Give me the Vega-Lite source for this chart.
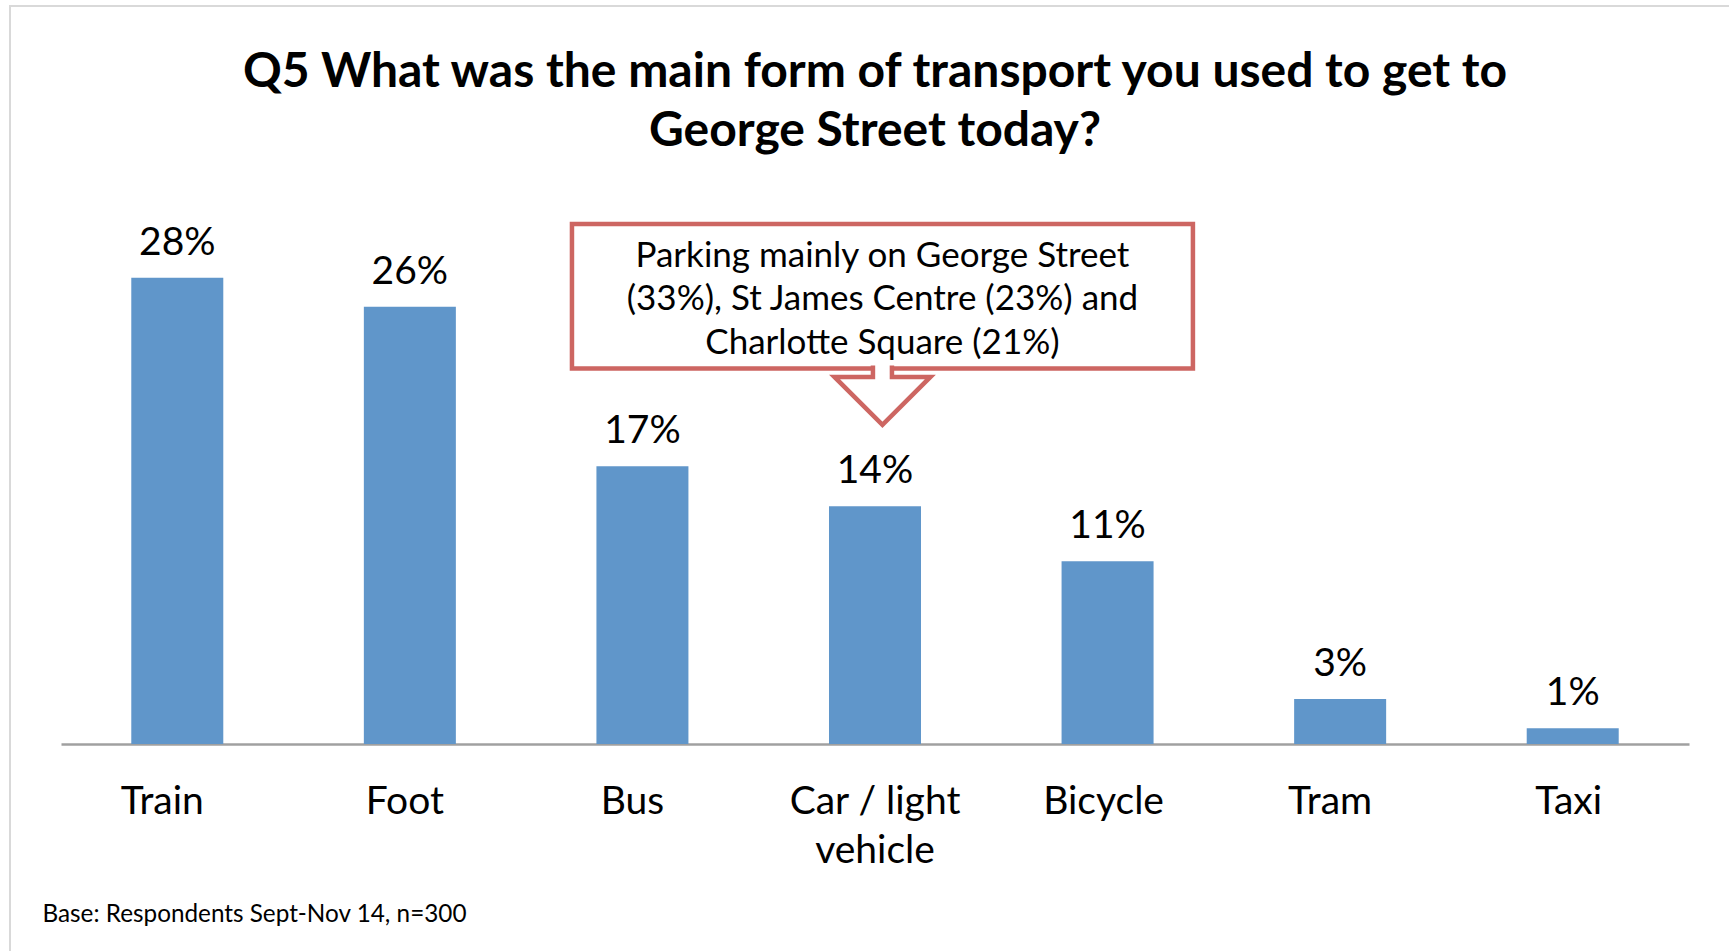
{
  "$schema": "https://vega.github.io/schema/vega-lite/v6.json",
  "width": 1628,
  "height": 532,
  "autosize": {"type": "none"},
  "padding": {"left": 61, "top": 212, "right": 40, "bottom": 207},
  "background": "white",
  "config": {"view": {"stroke": null}, "font": "Lato"},
  "title": {
    "text": ["Q5 What was the main form of transport you used to get to", "George Street today?"],
    "font": "Lato",
    "fontSize": 48,
    "fontWeight": "bold",
    "color": "black",
    "anchor": "middle",
    "frame": "group",
    "lineHeight": 59.5,
    "baseline": "alphabetic",
    "offset": -189
  },
  "data": {
    "values": [
      {"mode": "Train", "pct": 28.05, "label": "28%"},
      {"mode": "Foot", "pct": 26.3, "label": "26%"},
      {"mode": "Bus", "pct": 16.7, "label": "17%"},
      {"mode": "Car / light vehicle", "pct": 14.3, "label": "14%"},
      {"mode": "Bicycle", "pct": 11.0, "label": "11%"},
      {"mode": "Tram", "pct": 2.7, "label": "3%"},
      {"mode": "Taxi", "pct": 0.95, "label": "1%"}
    ]
  },
  "layer": [
    {
      "data": {"values": [{}]},
      "mark": {"type": "rect", "filled": false, "stroke": "#d9d9d9", "strokeWidth": 2},
      "encoding": {
        "x": {"datum": -0.2193, "type": "quantitative", "scale": {"domain": [0, 7]}, "axis": null},
        "x2": {"datum": 7.3},
        "y": {"datum": 44.39, "type": "quantitative", "scale": {"domain": [0, 32]}, "axis": null},
        "y2": {"datum": -14}
      }
    },
    {
      "mark": {"type": "bar", "color": "#6096ca"},
      "encoding": {
        "x": {
          "field": "mode",
          "type": "nominal",
          "sort": null,
          "scale": {"paddingInner": 0.6044, "paddingOuter": 0.3022},
          "axis": {
            "title": "Base: Respondents Sept-Nov 14, n=300",
            "titleFont": "Lato",
            "titleFontSize": 24.3,
            "titleFontWeight": "normal",
            "titleColor": "black",
            "titleAnchor": "start",
            "titleAlign": "left",
            "titleBaseline": "alphabetic",
            "titleX": -19,
            "titleY": 177,
            "labelAngle": 0,
            "labelFont": "Lato",
            "labelFontSize": 39,
            "labelColor": "black",
            "labelPadding": 69,
            "labelBaseline": "alphabetic",
            "labelLineHeight": 49,
            "labelLimit": 500,
            "labelOffset": {
              "condition": [
                {"test": "datum.value == 'Train'", "value": -15},
                {"test": "datum.value == 'Foot'", "value": -5},
                {"test": "datum.value == 'Bus'", "value": -10},
                {"test": "datum.value == 'Bicycle'", "value": -4},
                {"test": "datum.value == 'Tram'", "value": -10},
                {"test": "datum.value == 'Taxi'", "value": -4}
              ],
              "value": 0
            },
            "labelExpr": "datum.value == 'Car / light vehicle' ? ['Car / light', 'vehicle'] : datum.label",
            "ticks": false,
            "grid": false,
            "domainColor": "#a0a0a0",
            "domainWidth": 2.5
          }
        },
        "y": {"field": "pct", "type": "quantitative", "scale": {"domain": [0, 32]}, "axis": null}
      }
    },
    {
      "mark": {"type": "text", "baseline": "alphabetic", "align": "center", "dy": -23, "font": "Lato", "fontSize": 39, "color": "black"},
      "encoding": {
        "x": {
          "field": "mode",
          "type": "nominal",
          "sort": null,
          "scale": {"paddingInner": 0.6044, "paddingOuter": 0.3022},
          "axis": null
        },
        "y": {"field": "pct", "type": "quantitative", "scale": {"domain": [0, 32]}, "axis": null},
        "text": {"field": "label"}
      }
    },
    {
      "data": {"values": [{}]},
      "mark": {"type": "rect", "filled": false, "stroke": "#cd6662", "strokeWidth": 4.5, "strokeJoin": "miter"},
      "encoding": {
        "x": {"datum": 2.197, "type": "quantitative", "scale": {"domain": [0, 7]}, "axis": null},
        "x2": {"datum": 4.867},
        "y": {"datum": 31.28, "type": "quantitative", "scale": {"domain": [0, 32]}, "axis": null},
        "y2": {"datum": 22.59}
      }
    },
    {
      "data": {"values": [{}]},
      "mark": {
        "type": "point",
        "shape": "M-0.095,-0.03L-0.095,0.085L-0.48,0.085L0,0.565L0.48,0.085L0.095,0.085L0.095,-0.03",
        "size": 40000,
        "filled": true,
        "fill": "white",
        "stroke": "#cd6662",
        "strokeWidth": 4.5,
        "strokeJoin": "miter",
        "opacity": 1
      },
      "encoding": {
        "x": {"datum": 3.532, "type": "quantitative", "scale": {"domain": [0, 7]}, "axis": null},
        "y": {"datum": 22.59, "type": "quantitative", "scale": {"domain": [0, 32]}, "axis": null}
      }
    },
    {
      "data": {"values": [{}]},
      "mark": {
        "type": "text",
        "text": ["Parking mainly on George Street", "(33%), St James Centre (23%) and", "Charlotte Square (21%)"],
        "baseline": "alphabetic",
        "align": "center",
        "lineHeight": 43.5,
        "font": "Lato",
        "fontSize": 35,
        "color": "black"
      },
      "encoding": {
        "x": {"datum": 3.532, "type": "quantitative", "scale": {"domain": [0, 7]}, "axis": null},
        "y": {"datum": 28.72, "type": "quantitative", "scale": {"domain": [0, 32]}, "axis": null}
      }
    }
  ],
  "resolve": {"scale": {"x": "independent"}}
}
